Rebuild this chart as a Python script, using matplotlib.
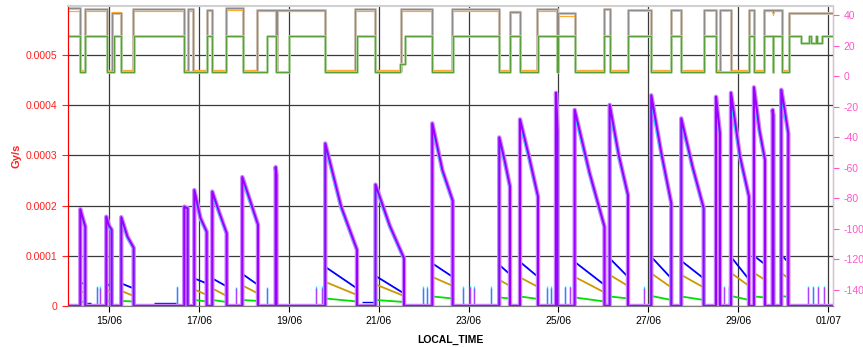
import numpy as np
import pandas as pd
import matplotlib
matplotlib.use('Agg')
import matplotlib.pyplot as plt

plt.rcParams['font.family'] = ['Liberation Sans', 'DejaVu Sans']

# ---- axis range / ticks ----
x_range = ['14/06 02:07', '01/07 02:34']
date_ticks = ['15/06 00:00', '17/06 00:00', '19/06 00:00', '21/06 00:00', '23/06 00:00',
              '25/06 00:00', '27/06 00:00', '29/06 00:00', '01/07 00:00']
date_labels = ['15/06', '17/06', '19/06', '21/06', '23/06', '25/06', '27/06', '29/06', '01/07']
dose_ticks = [0, 0.0001, 0.0002, 0.0003, 0.0004, 0.0005]
dose_labels = ['0', '0.0001', '0.0002', '0.0003', '0.0004', '0.0005']
temp_ticks = [-140, -120, -100, -80, -60, -40, -20, 0, 20, 40]

# ---- dose rate pulses (values in 1e-4 Gy/s) ----
pulse_start = ['14/06 08:41', '14/06 22:34', '15/06 06:34', '16/06 16:12', '16/06 21:33',
               '17/06 07:09', '17/06 23:10', '18/06 17:00', '19/06 19:29', '20/06 22:18',
               '22/06 04:37', '23/06 16:23', '24/06 03:27', '24/06 22:40', '25/06 08:39',
               '26/06 03:20', '27/06 01:33', '27/06 17:34', '28/06 12:06', '28/06 20:07',
               '29/06 08:23', '29/06 18:22', '29/06 22:58']
pulse_end = ['14/06 11:21', '15/06 01:26', '15/06 13:11', '16/06 18:01', '17/06 04:10',
             '17/06 14:51', '18/06 07:33', '18/06 17:26', '20/06 12:25', '21/06 13:31',
             '22/06 15:31', '23/06 22:07', '24/06 13:04', '24/06 23:28', '26/06 00:34',
             '26/06 13:07', '27/06 12:14', '28/06 05:32', '28/06 14:14', '29/06 05:43',
             '29/06 14:16', '29/06 18:48', '30/06 02:42']
purple_top = [1.93, 1.78, 1.77, 1.98, 2.31, 2.28, 2.57, 2.77, 3.24, 2.42, 3.64, 3.36,
              3.72, 4.25, 3.91, 4.01, 4.20, 3.74, 4.17, 4.25, 4.36, 3.91, 4.31]
purple_mid = [1.75, 1.60, 1.38, 1.96, 1.75, 1.85, 2.10, 2.70, 1.98, 1.60, 2.70, 2.90,
              2.98, 3.90, 2.65, 3.00, 3.05, 2.78, 3.80, 2.98, 3.50, 3.85, 3.90]
purple_end = [1.58, 1.52, 1.16, 1.95, 1.48, 1.45, 1.62, 2.60, 1.12, 0.95, 2.10, 2.38,
              2.18, 3.50, 1.58, 2.21, 2.05, 1.95, 3.44, 2.18, 2.91, 3.80, 3.44]
cyan_top = [1.88, 1.73, 1.72, 1.94, 2.24, 2.21, 2.50, 2.70, 3.16, 2.36, 3.55, 3.27,
            3.63, 3.95, 3.80, 3.90, 4.02, 3.65, 3.90, 4.05, 4.18, 3.82, 4.12]
cyan_mid = [1.71, 1.56, 1.34, 1.93, 1.71, 1.80, 2.05, 2.65, 1.93, 1.56, 2.64, 2.84,
            2.91, 3.75, 2.60, 2.94, 2.98, 2.72, 3.68, 2.91, 3.42, 3.78, 3.78]
cyan_end = [1.56, 1.49, 1.14, 1.92, 1.45, 1.42, 1.60, 2.56, 1.10, 0.92, 2.07, 2.34,
            2.15, 3.45, 1.56, 2.18, 2.02, 1.92, 3.40, 2.15, 2.86, 3.72, 3.40]
blue_top = [0.46, 0.45, 0.45, 0.49, 0.55, 0.55, 0.64, 0.10, 0.78, 0.60, 0.85, 0.82,
            0.88, 1.02, 0.88, 0.95, 0.98, 0.90, 0.98, 0.98, 1.00, 0.30, 1.02]
blue_end = [0.44, 0.38, 0.35, 0.48, 0.45, 0.39, 0.42, 0.10, 0.35, 0.25, 0.58, 0.63,
            0.58, 0.90, 0.42, 0.58, 0.55, 0.55, 0.90, 0.53, 0.83, 0.30, 0.87]
gold_top = [0.28, 0.33, 0.30, 0.33, 0.33, 0.35, 0.41, 0.05, 0.48, 0.43, 0.58, 0.52,
            0.57, 0.62, 0.58, 0.62, 0.65, 0.62, 0.65, 0.66, 0.66, 0.20, 0.66]
gold_end = [0.27, 0.25, 0.20, 0.32, 0.22, 0.20, 0.25, 0.05, 0.22, 0.20, 0.40, 0.40,
            0.38, 0.60, 0.27, 0.40, 0.37, 0.37, 0.60, 0.40, 0.52, 0.20, 0.55]
green_top = [0.09, 0.10, 0.10, 0.10, 0.12, 0.12, 0.12, 0.02, 0.15, 0.12, 0.19, 0.17,
             0.19, 0.20, 0.17, 0.19, 0.20, 0.19, 0.20, 0.20, 0.19, 0.05, 0.20]
green_end = [0.08, 0.09, 0.09, 0.10, 0.09, 0.08, 0.10, 0.02, 0.09, 0.08, 0.15, 0.15,
             0.14, 0.20, 0.09, 0.15, 0.12, 0.12, 0.20, 0.12, 0.17, 0.05, 0.18]

# low background readings between pulses
base_start = ['14/06 11:21', '16/06 00:11', '20/06 15:05']
base_end = ['14/06 14:23', '16/06 11:46', '20/06 22:02']
base_blue = [0.06, 0.06, 0.08]

# short single-sample spikes
spike_time = ['14/06 17:26', '14/06 19:12', '16/06 12:09', '17/06 19:39', '18/06 12:12',
              '19/06 14:31', '19/06 17:53', '21/06 23:49', '22/06 01:57', '22/06 21:01',
              '23/06 00:45', '23/06 03:09', '23/06 11:48', '24/06 17:42', '24/06 20:00',
              '25/06 03:28', '25/06 06:08', '26/06 21:29', '28/06 16:32', '28/06 19:19',
              '30/06 13:13', '30/06 15:44', '30/06 18:24', '30/06 21:55']
spike_cyan = [0.40, 0.39, 0.40, 0.38, 0.38, 0.39, 0.39, 0.39, 0.39, 0.39, 0.40, 0.39,
              0.39, 0.39, 0.39, 0.40, 0.40, 0.39, 0.40, 0.40, 0.40, 0.40, 0.40, 0.40]
spike_purple = [0.37, 0.36, 0.37, 0.35, 0.35, 0.36, 0.36, 0.36, 0.36, 0.36, 0.37, 0.36,
                0.36, 0.36, 0.36, 0.37, 0.37, 0.36, 0.37, 0.37, 0.37, 0.37, 0.37, 0.37]

# ---- right axis step signals ----
step_time = ['14/06 02:07', '14/06 08:41', '14/06 11:21', '14/06 22:46', '15/06 01:36',
             '15/06 06:34', '15/06 12:39', '16/06 16:12', '16/06 18:01', '16/06 21:01',
             '17/06 04:10', '17/06 07:09', '17/06 14:19', '17/06 23:33', '18/06 07:11',
             '18/06 17:00', '18/06 17:42', '19/06 19:29', '20/06 11:31', '20/06 22:11',
             '21/06 12:04', '22/06 04:28', '22/06 14:59', '23/06 16:23', '23/06 22:07',
             '24/06 03:27', '24/06 12:41', '24/06 23:02', '24/06 23:53', '25/06 08:39',
             '26/06 00:18', '26/06 03:20', '26/06 13:07', '27/06 01:33', '27/06 12:14',
             '27/06 17:34', '28/06 05:41', '28/06 12:06', '28/06 14:14', '28/06 20:07',
             '29/06 05:34', '29/06 08:33', '29/06 13:53', '29/06 18:22', '29/06 18:48',
             '29/06 23:20', '30/06 02:55', '01/07 02:34']
gray_val = [44.4, 3.3, 44.0, 3.3, 41.0, 3.3, 44.0, 3.3, 44.0, 3.3,
            43.0, 3.3, 44.4, 3.3, 43.5, 3.3, 43.5, 3.3, 44.0, 3.3,
            44.0, 3.3, 44.0, 3.3, 42.0, 3.3, 44.0, 3.3, 41.1, 3.3,
            44.0, 3.3, 43.5, 3.3, 43.5, 3.3, 43.5, 3.3, 43.5, 3.3,
            43.5, 3.3, 43.5, 42.0, 43.5, 3.3, 41.1, 41.1]
orange_val = [42.8, 4.2, 42.8, 4.2, 42.2, 4.2, 42.8, 4.2, 42.8, 4.2,
              42.5, 4.2, 43.5, 4.2, 42.8, 4.2, 42.8, 4.2, 42.8, 4.2,
              42.8, 4.2, 42.8, 4.2, 42.5, 4.2, 42.8, 4.2, 39.3, 4.2,
              43.7, 4.2, 43.0, 4.2, 43.0, 4.2, 43.0, 4.2, 43.0, 4.2,
              43.0, 4.2, 42.8, 40.0, 42.8, 4.2, 41.5, 41.5]
green_time = ['14/06 02:07', '14/06 08:41', '14/06 11:21', '14/06 22:46', '15/06 02:50',
              '15/06 06:34', '15/06 13:31', '16/06 16:12', '17/06 04:10', '17/06 07:09',
              '17/06 14:19', '17/06 23:33', '18/06 12:12', '18/06 17:00', '19/06 00:07',
              '19/06 19:29', '20/06 12:25', '20/06 22:11', '21/06 11:32', '21/06 14:12',
              '22/06 04:28', '22/06 15:31', '23/06 16:23', '23/06 22:07', '24/06 03:27',
              '24/06 13:04', '24/06 23:02', '24/06 23:53', '25/06 08:39', '26/06 00:18',
              '26/06 03:20', '26/06 13:07', '27/06 01:33', '27/06 12:14', '27/06 17:34',
              '28/06 05:41', '28/06 12:06', '29/06 05:34', '29/06 08:33', '29/06 13:53',
              '29/06 18:22', '29/06 18:48', '29/06 23:20', '30/06 02:55', '30/06 09:29',
              '30/06 13:55', '30/06 14:49', '30/06 17:29', '30/06 18:17', '30/06 20:41',
              '01/07 02:34']
green_val = [26.4, 2.8, 26.4, 2.8, 26.4, 2.8, 26.4, 2.8, 26.4, 2.8,
             26.4, 2.8, 26.4, 2.8, 26.4, 2.8, 26.4, 2.8, 8.1, 26.4,
             2.8, 26.4, 2.8, 26.4, 2.8, 26.4, 2.8, 26.4, 2.8, 26.4,
             2.8, 26.4, 2.8, 26.4, 2.8, 26.4, 2.8, 26.4, 2.8, 26.4,
             2.8, 26.4, 2.8, 26.4, 21.4, 26.4, 21.4, 26.4, 21.4, 26.4, 26.4]


def to_time(labels):
    return pd.to_datetime(['2021/' + s for s in labels], format='%Y/%d/%m %H:%M')


t_left, t_right = to_time(x_range)
starts = to_time(pulse_start)
ends = to_time(pulse_end)


def pulse_series(top, end, mid=None):
    # build a trace that sits at zero and jumps up for each pulse
    xs, ys = [t_left], [0.0]
    for i in range(len(starts)):
        s, e = starts[i], ends[i]
        xs += [s, s]
        ys += [0.0, top[i]]
        if mid is not None:
            xs.append(s + (e - s) / 2)
            ys.append(mid[i])
        xs += [e, e]
        ys += [end[i], 0.0]
    xs.append(t_right)
    ys.append(0.0)
    return xs, np.array(ys) * 1e-4


fig, ax = plt.subplots(figsize=(8.63, 3.47), dpi=100)
fig.subplots_adjust(left=0.0788, right=0.9652, bottom=0.1182, top=0.9827)
ax2 = ax.twinx()

# --- left axis: dose rates ---
ax.hlines(np.array(base_blue) * 1e-4, to_time(base_start), to_time(base_end),
          colors='#0000ff', lw=1.0, zorder=2)
for top, end, color in [(blue_top, blue_end, '#0000ff'),
                        (gold_top, gold_end, '#cc9900'),
                        (green_top, green_end, '#00e000')]:
    xs, ys = pulse_series(top, end)
    ax.plot(xs, ys, color=color, lw=1.3, zorder=2)

sp_t = to_time(spike_time)
ax.vlines(sp_t, 0, np.array(spike_cyan) * 1e-4, colors='#00ffff', lw=1.0, zorder=3)
ax.vlines(sp_t, 0, np.array(spike_purple) * 1e-4, colors='#aa44ff', lw=1.0, zorder=3)

xs, ys = pulse_series(purple_top, purple_end, purple_mid)
ax.plot(xs, ys, color='#cc88ff', lw=3.2, zorder=3)
cx, cy = pulse_series(cyan_top, cyan_end, cyan_mid)
ax.plot(cx, cy, color='#00ffff', lw=1.0, zorder=3)
ax.plot(xs, ys, color='#9900ff', lw=1.5, zorder=4)

# --- right axis: step signals ---
st = to_time(step_time)
ax2.plot(st, gray_val, drawstyle='steps-post', color='#c4c4c4', lw=2.2)
ax2.plot(st, orange_val, drawstyle='steps-post', color='#ffaa33', lw=0.9)
ax2.plot(st, gray_val, drawstyle='steps-post', color='#8a8a8a', lw=0.7)
gt = to_time(green_time)
ax2.plot(gt, green_val, drawstyle='steps-post', color='#b8dcaa', lw=2.0)
ax2.plot(gt, green_val, drawstyle='steps-post', color='#5c9e3c', lw=0.9)

# --- axes styling ---
ax.set_xlim(t_left, t_right)
ax.set_ylim(0, 0.000598)
ax2.set_ylim(-150.8, 45.9)

ax.set_xticks(to_time(date_ticks))
ax.set_xticklabels(date_labels, fontsize=7.5)
ax.set_yticks(dose_ticks)
ax.set_yticklabels(dose_labels, fontsize=7.5)
ax2.set_yticks(temp_ticks)
ax2.set_yticklabels([str(v) for v in temp_ticks], fontsize=7.5)

ax.tick_params(axis='y', colors='#ff2020', length=4)
ax.tick_params(axis='x', colors='black', length=4)
ax2.tick_params(axis='y', colors='#ff55cc', length=4)

ax.grid(True, color='#3a3a3a', lw=0.9)
ax.set_axisbelow(True)

ax.set_ylabel('Gy/s', color='#ff2020', fontsize=8, weight='bold', labelpad=3)
ax.set_xlabel('LOCAL_TIME', fontsize=7.5, weight='bold', labelpad=6)

ax.spines['left'].set_color('#ff0000')
ax2.spines['left'].set_color('#ff0000')
ax2.spines['right'].set_color('#ffaaee')
ax2.spines['top'].set_color('#d0d0d0')
ax2.spines['top'].set_linewidth(1.5)
ax.spines['top'].set_visible(False)
ax.spines['bottom'].set_color('#808080')
ax2.spines['bottom'].set_color('#808080')

fig.savefig('out.png', dpi=100)
